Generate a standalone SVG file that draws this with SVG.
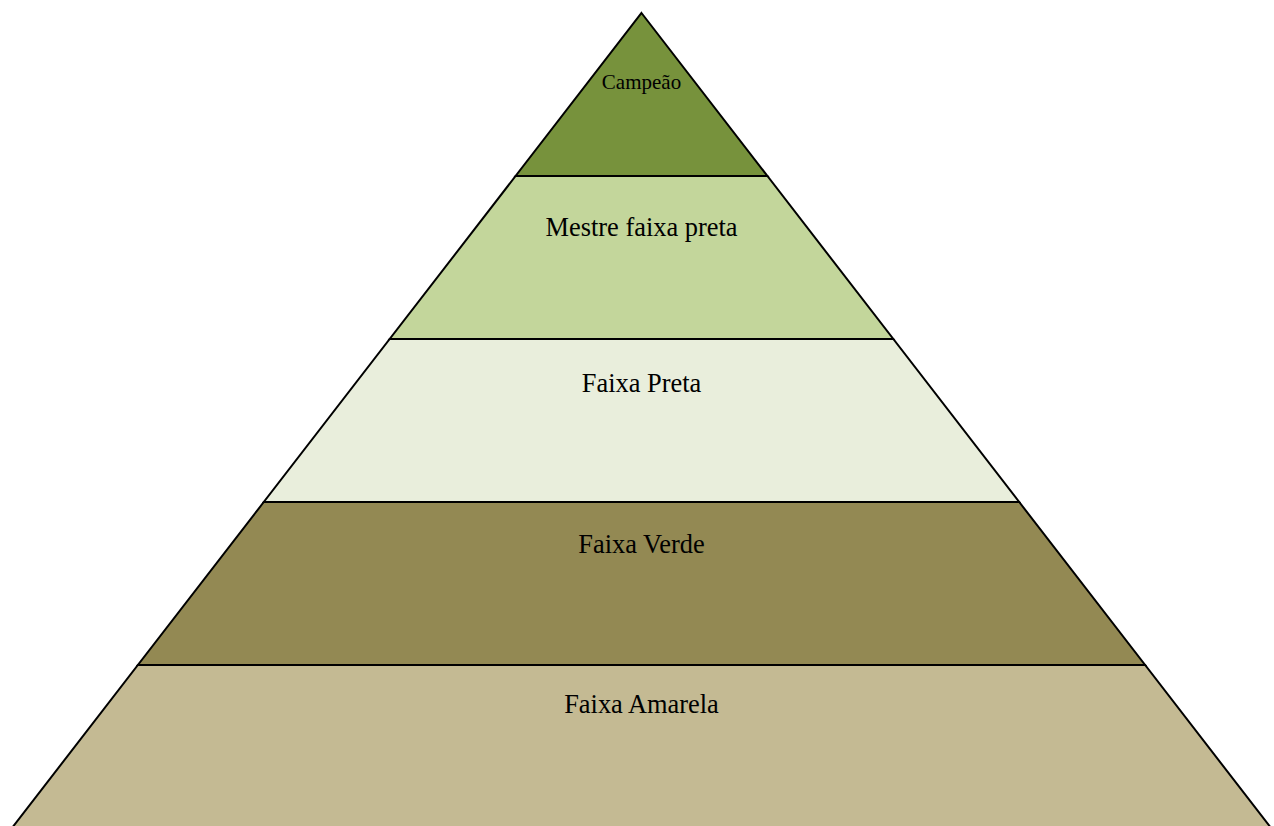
<svg xmlns="http://www.w3.org/2000/svg" width="1274" height="826" viewBox="0 0 1274 826">
  <style>
    .band { stroke: #000; stroke-width: 2; stroke-linejoin: miter; }
    .lbl { font-family: "Liberation Serif", "Times New Roman", serif; font-size: 26.4px; fill: #000; text-anchor: middle; }
    .small { font-size: 21px; }
  </style>
  <rect width="1274" height="826" fill="#fff"/>
  <!-- pyramid tiers, apex at (641.5,13), sides slope 0.7725 px per px -->
  <g id="tier-campeao">
    <polygon class="band" fill="#77923C" points="641.5,13 767.4,176 515.6,176"/>
    <text class="lbl small" x="641.5" y="88.5">Campeão</text>
  </g>
  <g id="tier-mestre">
    <polygon class="band" fill="#C3D69B" points="515.6,176 767.4,176 893.3,339 389.7,339"/>
    <text class="lbl" x="641.5" y="236">Mestre faixa preta</text>
  </g>
  <g id="tier-preta">
    <polygon class="band" fill="#E9EEDC" points="389.7,339 893.3,339 1019.2,502 263.8,502"/>
    <text class="lbl" x="641.5" y="392">Faixa Preta</text>
  </g>
  <g id="tier-verde">
    <polygon class="band" fill="#938953" points="263.8,502 1019.2,502 1145.1,665 137.9,665"/>
    <text class="lbl" x="641.5" y="553">Faixa Verde</text>
  </g>
  <g id="tier-amarela">
    <polygon class="band" fill="#C4BA93" points="137.9,665 1145.1,665 1272.6,830 10.4,830"/>
    <text class="lbl" x="641.5" y="713">Faixa Amarela</text>
  </g>
  <g id="connectors"></g>
</svg>
